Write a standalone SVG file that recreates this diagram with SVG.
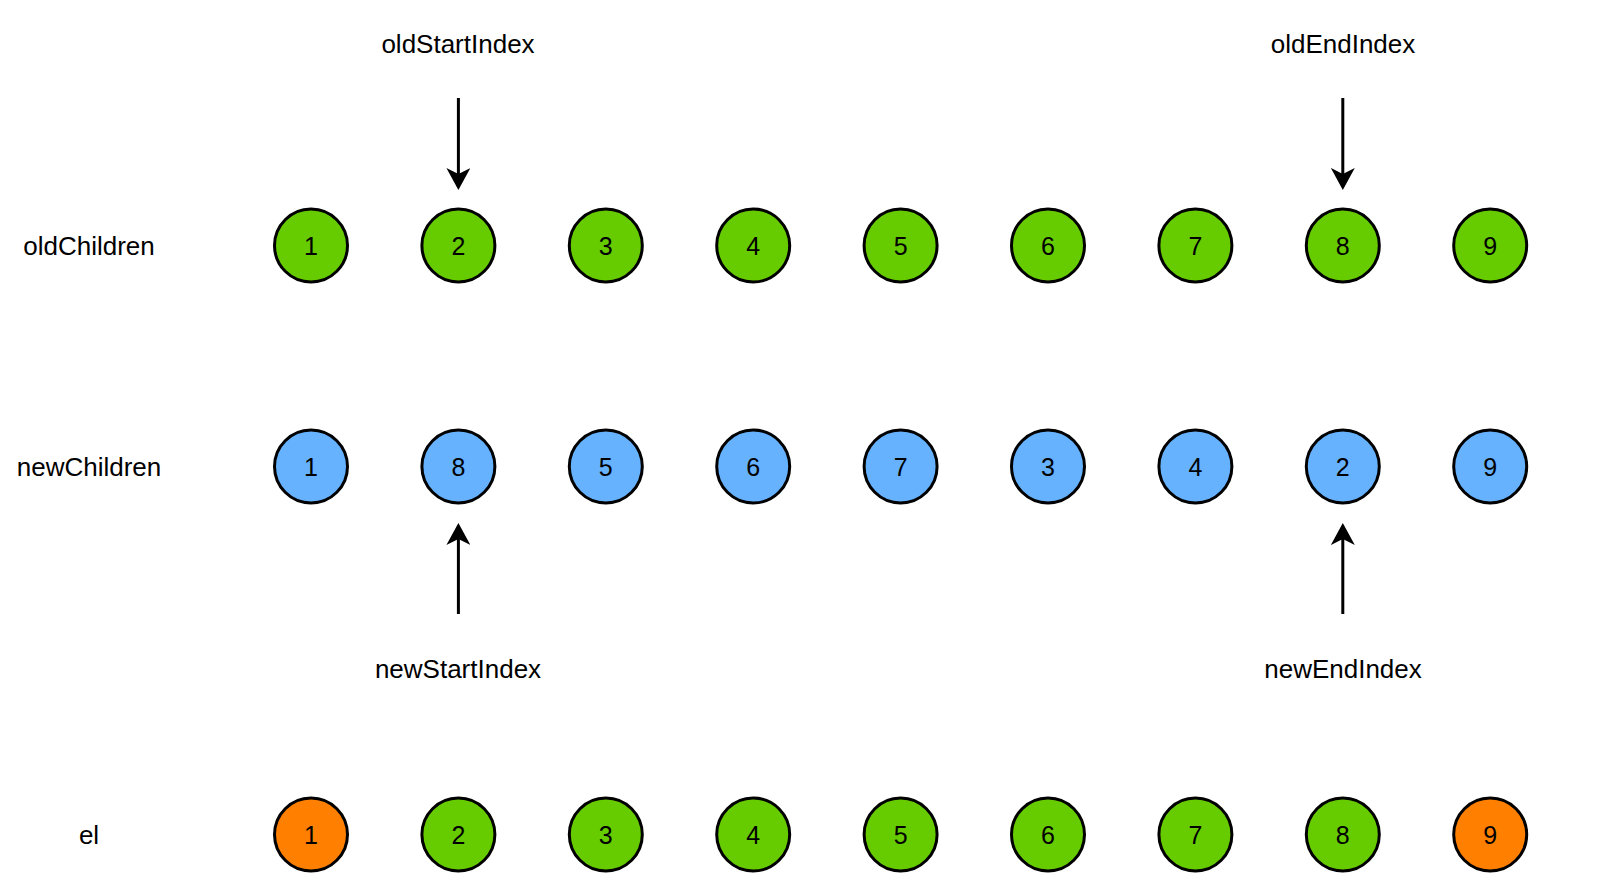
<svg xmlns="http://www.w3.org/2000/svg" width="1603" height="883" viewBox="0 0 1603 883">
<defs>
<style>
text{font-family:"Liberation Sans",Arial,sans-serif;fill:#000;text-anchor:middle;dominant-baseline:central}
.lbl{font-size:26px}
.num{font-size:25px}
circle{stroke:#000;stroke-width:3;r:36.5px}
.g{fill:#66CC00}
.b{fill:#66B2FF}
.o{fill:#FF8000}
.c{stroke:#000;stroke-width:3;fill:none;marker-end:url(#ah)}
</style>
<marker id="ah" viewBox="0 0 22 24" refX="19" refY="12" markerWidth="22" markerHeight="24" markerUnits="userSpaceOnUse" orient="auto">
<path d="M0,0 L22,12 L0,24 L6,12 z" fill="#000"/>
</marker>
</defs>
<rect width="1603" height="883" fill="#fff"/>
<g id="labels">
<text class="lbl" x="89" y="245.5">oldChildren</text>
<text class="lbl" x="89" y="466.5">newChildren</text>
<text class="lbl" x="89" y="834.5">el</text>
<text class="lbl" x="458" y="44">oldStartIndex</text>
<text class="lbl" x="1343" y="44">oldEndIndex</text>
<text class="lbl" x="458" y="669">newStartIndex</text>
<text class="lbl" x="1343" y="669">newEndIndex</text>
</g>
<g id="connectors">
<line class="c" x1="458.4" y1="98" x2="458.4" y2="187"/>
<line class="c" x1="1342.8" y1="98" x2="1342.8" y2="187"/>
<line class="c" x1="458.4" y1="614" x2="458.4" y2="526"/>
<line class="c" x1="1342.8" y1="614" x2="1342.8" y2="526"/>
</g>
<g id="old">
<g id="old1"><circle class="g" cx="311" cy="245.5" r="36.5"/><text class="num" x="311" y="245.5">1</text></g>
<g id="old2"><circle class="g" cx="458.4" cy="245.5" r="36.5"/><text class="num" x="458.4" y="245.5">2</text></g>
<g id="old3"><circle class="g" cx="605.8" cy="245.5" r="36.5"/><text class="num" x="605.8" y="245.5">3</text></g>
<g id="old4"><circle class="g" cx="753.2" cy="245.5" r="36.5"/><text class="num" x="753.2" y="245.5">4</text></g>
<g id="old5"><circle class="g" cx="900.6" cy="245.5" r="36.5"/><text class="num" x="900.6" y="245.5">5</text></g>
<g id="old6"><circle class="g" cx="1048" cy="245.5" r="36.5"/><text class="num" x="1048" y="245.5">6</text></g>
<g id="old7"><circle class="g" cx="1195.4" cy="245.5" r="36.5"/><text class="num" x="1195.4" y="245.5">7</text></g>
<g id="old8"><circle class="g" cx="1342.8" cy="245.5" r="36.5"/><text class="num" x="1342.8" y="245.5">8</text></g>
<g id="old9"><circle class="g" cx="1490.2" cy="245.5" r="36.5"/><text class="num" x="1490.2" y="245.5">9</text></g>
</g>
<g id="new">
<g id="new1"><circle class="b" cx="311" cy="466.5" r="36.5"/><text class="num" x="311" y="466.5">1</text></g>
<g id="new8"><circle class="b" cx="458.4" cy="466.5" r="36.5"/><text class="num" x="458.4" y="466.5">8</text></g>
<g id="new5"><circle class="b" cx="605.8" cy="466.5" r="36.5"/><text class="num" x="605.8" y="466.5">5</text></g>
<g id="new6"><circle class="b" cx="753.2" cy="466.5" r="36.5"/><text class="num" x="753.2" y="466.5">6</text></g>
<g id="new7"><circle class="b" cx="900.6" cy="466.5" r="36.5"/><text class="num" x="900.6" y="466.5">7</text></g>
<g id="new3"><circle class="b" cx="1048" cy="466.5" r="36.5"/><text class="num" x="1048" y="466.5">3</text></g>
<g id="new4"><circle class="b" cx="1195.4" cy="466.5" r="36.5"/><text class="num" x="1195.4" y="466.5">4</text></g>
<g id="new2"><circle class="b" cx="1342.8" cy="466.5" r="36.5"/><text class="num" x="1342.8" y="466.5">2</text></g>
<g id="new9"><circle class="b" cx="1490.2" cy="466.5" r="36.5"/><text class="num" x="1490.2" y="466.5">9</text></g>
</g>
<g id="el">
<g id="el1"><circle class="o" cx="311" cy="834.5" r="36.5"/><text class="num" x="311" y="834.5">1</text></g>
<g id="el2"><circle class="g" cx="458.4" cy="834.5" r="36.5"/><text class="num" x="458.4" y="834.5">2</text></g>
<g id="el3"><circle class="g" cx="605.8" cy="834.5" r="36.5"/><text class="num" x="605.8" y="834.5">3</text></g>
<g id="el4"><circle class="g" cx="753.2" cy="834.5" r="36.5"/><text class="num" x="753.2" y="834.5">4</text></g>
<g id="el5"><circle class="g" cx="900.6" cy="834.5" r="36.5"/><text class="num" x="900.6" y="834.5">5</text></g>
<g id="el6"><circle class="g" cx="1048" cy="834.5" r="36.5"/><text class="num" x="1048" y="834.5">6</text></g>
<g id="el7"><circle class="g" cx="1195.4" cy="834.5" r="36.5"/><text class="num" x="1195.4" y="834.5">7</text></g>
<g id="el8"><circle class="g" cx="1342.8" cy="834.5" r="36.5"/><text class="num" x="1342.8" y="834.5">8</text></g>
<g id="el9"><circle class="o" cx="1490.2" cy="834.5" r="36.5"/><text class="num" x="1490.2" y="834.5">9</text></g>
</g>
</svg>
